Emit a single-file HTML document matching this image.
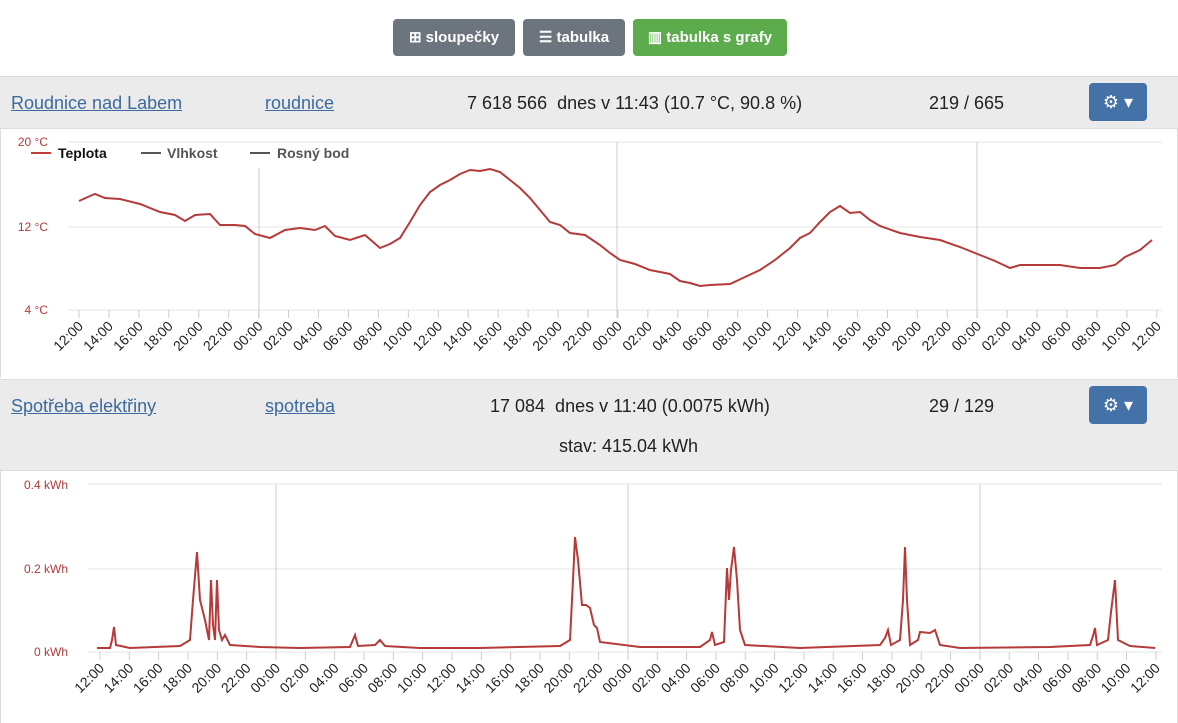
<!DOCTYPE html>
<html><head><meta charset="utf-8"><style>
body{margin:0;width:1178px;height:723px;background:#fff;font-family:"Liberation Sans",sans-serif;overflow:hidden;position:relative}
.btn{position:absolute;top:19px;height:37px;border-radius:4px;color:#fff;font-size:15px;font-weight:bold;line-height:37px;text-align:center}
.hdr{position:absolute;left:0;width:1178px;background:#ebebeb;border-top:1px solid #ddd;border-bottom:1px solid #ddd;font-size:18px;color:#222}
.hdr a{position:absolute;color:#3d6a9c;text-decoration:underline}
.hdr span{position:absolute}
.gear{position:absolute;left:1089px;width:58px;height:38px;background:#4472a8;border-radius:4px;color:#fff;font-size:18px;text-align:center;line-height:38px}
svg text{font-family:"Liberation Sans",sans-serif}
</style></head><body>
<div class="btn" style="left:393px;width:122px;background:#6c757d">⊞ sloupečky</div>
<div class="btn" style="left:523px;width:102px;background:#6c757d">☰ tabulka</div>
<div class="btn" style="left:633px;width:154px;background:#5cab4c">▥ tabulka s grafy</div>

<div class="hdr" style="top:76px;height:51px">
<a style="left:11px;top:16px">Roudnice nad Labem</a>
<a style="left:265px;top:16px">roudnice</a>
<span style="left:467px;top:16px">7 618 566&nbsp; dnes v 11:43 (10.7 °C, 90.8 %)</span>
<span style="left:929px;top:16px">219 / 665</span>
<div class="gear" style="top:6px">⚙ ▾</div>
</div>

<div class="hdr" style="top:379px;height:90px">
<a style="left:11px;top:16px">Spotřeba elektřiny</a>
<a style="left:265px;top:16px">spotreba</a>
<span style="left:490px;top:16px">17 084&nbsp; dnes v 11:40 (0.0075 kWh)</span>
<span style="left:929px;top:16px">29 / 129</span>
<span style="left:559px;top:56px">stav: 415.04 kWh</span>
<div class="gear" style="top:6px">⚙ ▾</div>
</div>

<svg style="position:absolute;left:0;top:0" width="1178" height="723">
<line x1="0.5" y1="128" x2="0.5" y2="378" stroke="#ddd"/>
<line x1="1177.5" y1="128" x2="1177.5" y2="378" stroke="#ddd"/>
<line x1="0.5" y1="470" x2="0.5" y2="723" stroke="#ddd"/>
<line x1="1177.5" y1="470" x2="1177.5" y2="723" stroke="#ddd"/>
<g stroke="#e6e6e6"><line x1="68" y1="142" x2="1162" y2="142"/><line x1="68" y1="227" x2="1162" y2="227"/><line x1="68" y1="310" x2="1162" y2="310"/>
<line x1="88" y1="484" x2="1162" y2="484"/><line x1="88" y1="569" x2="1162" y2="569"/><line x1="88" y1="652" x2="1162" y2="652"/></g>
<g stroke="#ccc"><line x1="259" y1="168" x2="259" y2="318"/><line x1="617" y1="142" x2="617" y2="318"/><line x1="977" y1="142" x2="977" y2="318"/>
<line x1="276" y1="484" x2="276" y2="658"/><line x1="628" y1="484" x2="628" y2="658"/><line x1="980" y1="484" x2="980" y2="658"/></g>
<g fill="#b03a3a" font-size="12"><text x="48" y="146" text-anchor="end">20 °C</text><text x="48" y="231" text-anchor="end">12 °C</text><text x="48" y="314" text-anchor="end">4 °C</text>
<text x="68" y="489" text-anchor="end">0.4 kWh</text><text x="68" y="573" text-anchor="end">0.2 kWh</text><text x="68" y="656" text-anchor="end">0 kWh</text></g>
<g font-size="14" font-weight="bold"><line x1="31" y1="153" x2="51" y2="153" stroke="#c03a3a" stroke-width="2"/><text x="58" y="158" fill="#111">Teplota</text>
<line x1="141" y1="153" x2="161" y2="153" stroke="#555" stroke-width="2"/><text x="167" y="158" fill="#555">Vlhkost</text>
<line x1="250" y1="153" x2="270" y2="153" stroke="#555" stroke-width="2"/><text x="277" y="158" fill="#555">Rosný bod</text></g>
<g id="ax1"></g><g id="ax2"></g>
<polyline fill="none" stroke="#b53a3a" stroke-width="2" points="79,201 90,196 95,194 105,198 120,199 140,204 160,212 175,215 185,221 195,215 210,214 220,225 235,225 245,226 255,234 270,238 285,230 300,228 315,230 325,226 335,236 350,240 365,235 380,248 390,244 400,238 410,222 420,205 430,192 440,185 450,180 460,174 470,170 480,171 490,169 500,172 510,180 520,188 530,198 540,210 550,222 560,225 570,233 585,235 600,245 610,253 620,260 635,264 650,270 670,274 680,281 690,283 700,286 710,285 730,284 745,277 760,270 775,260 790,248 800,238 810,233 820,222 830,212 840,206 850,213 860,212 870,220 880,226 900,233 920,237 940,240 960,247 980,255 995,261 1010,268 1020,265 1040,265 1060,265 1080,268 1100,268 1115,265 1125,257 1140,250 1152,240"/>
<polyline fill="none" stroke="#b53a3a" stroke-width="2" points="97,648 110,648 112,640 114,627 116,645 130,648 180,646 190,640 193,600 197,552 200,600 205,620 209,640 211,580 213,625 215,640 217,580 219,630 222,640 225,635 230,645 260,647 300,648 350,647 355,635 358,646 375,645 380,640 385,646 420,648 480,648 560,646 570,640 573,580 575,537 578,560 582,605 586,605 590,608 594,625 597,628 600,642 640,647 700,647 710,640 712,632 715,645 724,642 727,568 729,600 731,570 734,547 737,580 740,630 745,645 800,648 880,645 885,638 888,630 891,645 900,640 903,600 905,547 907,600 910,645 918,640 920,632 930,633 935,630 940,645 960,648 1050,647 1090,645 1093,636 1095,628 1097,645 1108,640 1111,612 1115,580 1118,640 1130,646 1155,648"/>
</svg>
<script>
function ticks(id,x0,dx,yb,ylab){var g=document.getElementById(id),s='';var lab=['12:00','14:00','16:00','18:00','20:00','22:00','00:00','02:00','04:00','06:00','08:00','10:00'];
for(var i=0;i<=36;i++){var x=x0+i*dx;var t=lab[i%12];s+='<line x1="'+x+'" y1="'+yb+'" x2="'+x+'" y2="'+(yb+8)+'" stroke="#ccc"/>';
s+='<text transform="translate('+(x+5)+','+(ylab)+') rotate(-45)" text-anchor="end" font-size="14" fill="#222">'+t+'</text>';}
g.innerHTML=s;}
ticks('ax1',79,29.94,310,327);ticks('ax2',100,29.33,652,669);
</script>
</body></html>
